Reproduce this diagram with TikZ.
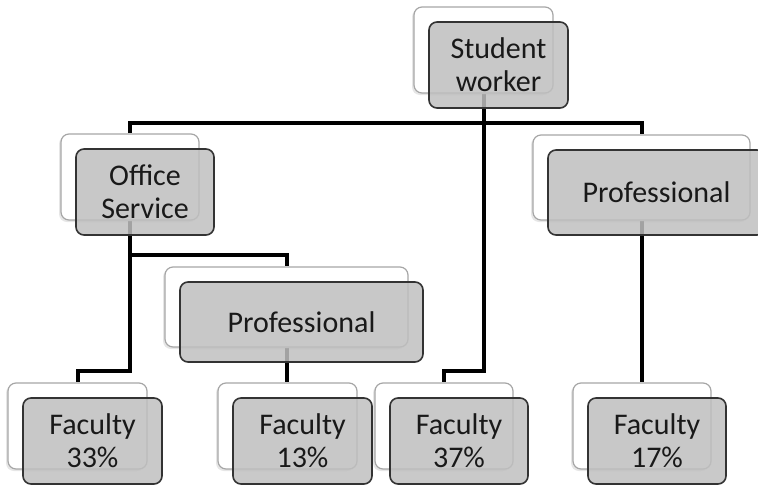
\documentclass[tikz,border=0pt]{standalone}
\usepackage{fontspec}
\setmainfont{Carlito}
\usetikzlibrary{backgrounds, shadows}

% one chart entry: white card behind, grey card in front
\newcommand{\orgbox}[5]{%
  \node[back, minimum width=#3, minimum height=#4] (#1) at (#2) {};
  \node[front, minimum width=#3, minimum height=#4] (#1-f) at ([shift={(15,15)}]#1.center) {#5};}

\begin{document}
\begin{tikzpicture}[x=1pt, y=-1pt,
    back/.style={draw=black!35, line width=1.2pt, fill=white, rounded corners=8pt, inner sep=0pt,
      drop shadow={shadow xshift=-2pt, shadow yshift=-2pt, opacity=0.2}},
    front/.style={draw=black!80, line width=1.6pt, fill=black!25, fill opacity=0.85, text opacity=1,
      rounded corners=8pt, inner sep=0pt, align=center, text=black!90,
      font=\fontsize{30}{33}\selectfont},
    link/.style={line width=4pt}]
    \useasboundingbox (0,0) rectangle (758,488);

    % top
    \orgbox{sw}{483.5,50}{139pt}{86pt}{Student\\worker}
    % second row
    \orgbox{os}{130,177}{138pt}{86pt}{Office\\Service}
    \orgbox{pr}{641.5,177.5}{217pt}{85pt}{Professional}
    % third row
    \orgbox{pm}{286.5,307}{243pt}{80pt}{Professional}
    % bottom row
    \orgbox{fa}{77.5,426}{139pt}{86pt}{Faculty\\33\%}
    \orgbox{fb}{287.5,426}{139pt}{86pt}{Faculty\\13\%}
    \orgbox{fc}{444,426}{138pt}{86pt}{Faculty\\37\%}
    \orgbox{fd}{642,426}{138pt}{86pt}{Faculty\\17\%}

    \coordinate (bus) at (484,123);
    \coordinate (split) at (0,255);
    \coordinate (jog) at (0,371);

    \begin{scope}[on background layer]
        \draw[link] (os.north) |- (bus) -| (pr.north);
        \draw[link] (sw.south) -- (sw.south |- jog) -| (fc.north);
        \draw[link] (os.south) -- (os.south |- split) -| (pm.north);
        \draw[link] (os.south) -- (os.south |- jog) -| (fa.north);
        \draw[link] (pm.south) -- (pm.south |- fb.north);
        \draw[link] (pr.south) -- (pr.south |- fd.north);
    \end{scope}
\end{tikzpicture}
\end{document}
